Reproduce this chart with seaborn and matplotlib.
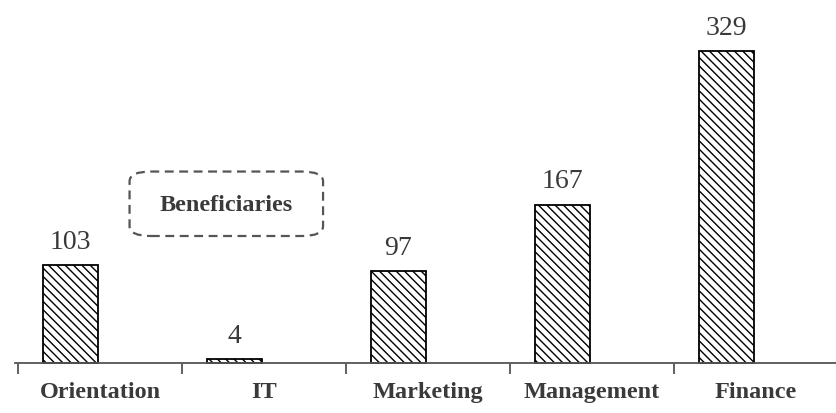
import numpy as np
import seaborn as sns
import matplotlib.pyplot as plt
from matplotlib.patches import FancyBboxPatch

categories = ["Orientation", "IT", "Marketing", "Management", "Finance"]
values = [103, 4, 97, 167, 329]
box_label = "Beneficiaries"

sns.set_theme(style="white")
plt.rcParams['font.family'] = ['Liberation Serif', 'DejaVu Serif']
plt.rcParams['hatch.linewidth'] = 1.0

fig = plt.figure(figsize=(8.37, 4.14), dpi=100)
ax = fig.add_axes([0, 0, 1, 1])

# bars sit left of the category centre, like the original
pos = np.arange(len(categories)) - 0.18
sns.barplot(x=pos, y=values, native_scale=True, width=0.34, color="white",
            edgecolor="black", linewidth=1.3, ax=ax)
for p in ax.patches:
    p.set_hatch("\\\\\\\\")

for x, v in zip(pos, values):
    ax.text(x, v + 12, str(v), ha="center", va="bottom", fontsize=20, color="#3a3a3a")

# spine position first - it resets the ticks
for s in ["top", "right", "left"]:
    ax.spines[s].set_visible(False)
ax.spines["bottom"].set_position(("data", 0))
ax.spines["bottom"].set_color("#555555")
ax.spines["bottom"].set_linewidth(1.3)
ax.spines["bottom"].set_bounds(-0.52, 4.5)

ax.set_xlim(-0.61, 4.494)
ax.set_ylim(-52.7, 384)
ax.set_yticks([])
ax.set_xticks(np.arange(len(categories)) - 0.5, minor=True)
ax.set_xticks(np.arange(len(categories)), labels=categories, fontsize=17.5,
              fontweight="bold", color="#3a3a3a")
ax.tick_params(axis="x", which="major", length=0, pad=13)
ax.tick_params(axis="x", which="minor", bottom=True, length=8, width=1.3, color="#555555", direction="out")

box = FancyBboxPatch((0.18, 134), 1.18, 68, boxstyle="round,pad=0,rounding_size=0.13",
                     mutation_aspect=80, fill=False, edgecolor="#555555",
                     linewidth=1.6, linestyle=(0, (4, 2.5)))
ax.add_patch(box)
ax.text(0.77, 167, box_label, ha="center", va="center", fontsize=17.5,
        fontweight="bold", color="#3a3a3a")

fig.savefig("out.png", dpi=100)
